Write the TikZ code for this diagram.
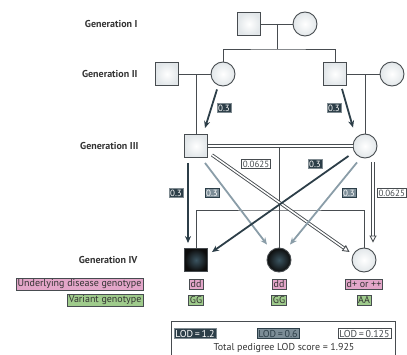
\documentclass[tikz,border=0pt]{standalone}
\usepackage{fontspec}
\setmainfont{PT Sans}
\usetikzlibrary{arrows.meta,calc}

\definecolor{lodDark}{HTML}{2C3E48}
\definecolor{lodGray}{HTML}{8A9DA8}
\definecolor{pedLine}{HTML}{474C50}
\definecolor{diseasePink}{HTML}{E3A6C9}
\definecolor{variantGreen}{HTML}{9FCB8C}
\definecolor{affCore}{HTML}{3B5460}

\begin{document}
\begin{tikzpicture}[x=1pt,y=1pt,
  male/.style={draw=pedLine,line width=0.9pt,minimum size=23pt,inner sep=0pt,
    shading=radial,inner color=white,outer color=lodGray!25},
  female/.style={male,circle,minimum size=24pt},
  affected/.style={shading=radial,inner color=affCore,outer color=black!95},
  pedline/.style={draw=pedLine,line width=0.9pt},
  darkarrow/.style={draw=lodDark,line width=1.8pt,-{Stealth[length=7pt,width=6pt]}},
  grayarrow/.style={draw=lodGray,line width=1.8pt,-{Stealth[length=7pt,width=6pt]}},
  openarrow/.style={draw=pedLine,line width=0.9pt,double=white,double distance=1.5pt,
    -{Triangle[open,length=7pt,width=7pt,fill=white]}},
  darklod/.style={fill=lodDark,draw=lodDark!60,text=white,font=\fontsize{9}{10}\selectfont,inner sep=1.3pt},
  graylod/.style={fill=lodGray!90!black,draw=lodDark,text=white,font=\fontsize{9}{10}\selectfont,inner sep=1.3pt},
  whitelod/.style={fill=white,draw=pedLine,text=pedLine,font=\fontsize{9}{10}\selectfont,inner sep=1.3pt},
  genlabel/.style={anchor=east,font=\bfseries\fontsize{10}{11}\selectfont,text=black!80},
  disease/.style={fill=diseasePink,draw=pedLine,line width=0.5pt,font=\fontsize{10}{11}\selectfont,
    inner sep=1.4pt,text=black!80},
  variant/.style={disease,fill=variantGreen}]
\useasboundingbox (0,0) rectangle (407,354);

% Generation labels
\node[genlabel] (lab1) at (141,330) {Generation I};
\node[genlabel] (lab2) at (141,280) {Generation II};
\node[genlabel] (lab3) at (142,208) {Generation III};
\node[genlabel] (lab4) at (141,94) {Generation IV};

% Generation I
\node[male] (g1m) at (249,330) {};
\node[female] (g1f) at (305,330) {};
\draw[pedline] (g1m) -- (g1f);
\coordinate (g1s) at (277,305);

% Generation II
\node[male] (g2m1) at (167,280) {};
\node[female] (g2f1) at (223,280) {};
\node[male] (g2m2) at (335,280) {};
\node[female] (g2f2) at (392,280) {};
\draw[pedline] (g1s |- g1m) -- (g1s);
\draw[pedline] (g2f1.north) |- (g1s) -| (g2m2.north);
\draw[pedline] (g2m1) -- (g2f1);
\draw[pedline] (g2m2) -- (g2f2);

% Generation III
\node[male] (g3m) at (196,208) {};
\node[female] (g3f) at (365,208) {};
\draw[pedline] (g3m.north) -- (g3m.north |- g2m1);
\draw[pedline] (g3f.north) -- (g3f.north |- g2m2);

% Generation IV
\node[male,affected] (g4a) at (196,94) {};
\node[female,affected] (g4b) at (279,94) {};
\node[female] (g4c) at (364,94) {};
\coordinate (g3s) at (279,144);
\draw[pedline] (g4b.north) -- (g4b.north |- g3m);
\draw[pedline] (g4a.north) |- (g3s) -| (g4c.north);
\draw[pedline,double=white,double distance=1.6pt] (g3m.east) -- (g3f.west);

% transmissions
\draw[darkarrow] ([shift={(-6,-3)}]g2f1.south) -- ([shift={(9,6)}]g3m.north);
\draw[darkarrow] ([shift={(7,-3)}]g2m2.south) -- ([shift={(-12,6)}]g3f.north);
\draw[darkarrow] ([shift={(-8,-5)}]g3m.south) -- ([shift={(-8,5)}]g4a.north);
\draw[grayarrow] ([shift={(9,-5)}]g3m.south) -- ([shift={(-12,3)}]g4b.north);
\draw[openarrow] ([shift={(4,3)}]g3m.south east) -- ([shift={(-2,8)}]g4c.west);
\draw[darkarrow] ([shift={(-4,-10)}]g3f.west) -- ([shift={(4,-4)}]g4a.north east);
\draw[grayarrow] ([shift={(-8,-4)}]g3f.south) -- ([shift={(11,3)}]g4b.north);
\draw[openarrow] ([shift={(8,-4)}]g3f.south) -- ([shift={(9,5)}]g4c.north);

% LOD per transmission
\node[darklod] (p1) at (224,246) {0.3};
\node[darklod] (p2) at (334,246) {0.3};
\node[darklod] (p3) at (176,161) {0.3};
\node[graylod] (p4) at (212,161) {0.3};
\node[whitelod] (p5) at (256,190) {0.0625};
\node[darklod] (p6) at (315,190) {0.3};
\node[graylod] (p7) at (349,161) {0.3};
\node[whitelod,anchor=west] (p8) at (377,161) {0.0625};

% genotypes
\node[disease,anchor=east] (dis) at (143,70) {Underlying disease genotype};
\node[variant,anchor=east] (var) at (143,54) {Variant genotype};
\node[disease] (disa) at (196,70) {dd};
\node[variant] (vara) at (196,54) {GG};
\node[disease] (disb) at (279,70) {dd};
\node[variant] (varb) at (279,54) {GG};
\node[disease] (disc) at (364,70) {d+ or ++};
\node[variant] (varc) at (364,54) {AA};

% LOD key
\draw[pedline] (171,-5) rectangle (395,33);
\node[darklod,font=\fontsize{10}{11}\selectfont] (k1) at (195,20.5) {LOD\,=\,1.2};
\node[graylod,text=lodDark,font=\fontsize{10}{11}\selectfont] (k2) at (278,20.5) {LOD\,=\,0.6};
\node[whitelod,font=\fontsize{10}{11}\selectfont] (k3) at (364.5,20.5) {LOD\,=\,0.125};
\node[font=\fontsize{10}{11}\selectfont,text=black!80] (tot) at (284,6) {Total pedigree LOD score = 1.925};
\end{tikzpicture}
\end{document}
